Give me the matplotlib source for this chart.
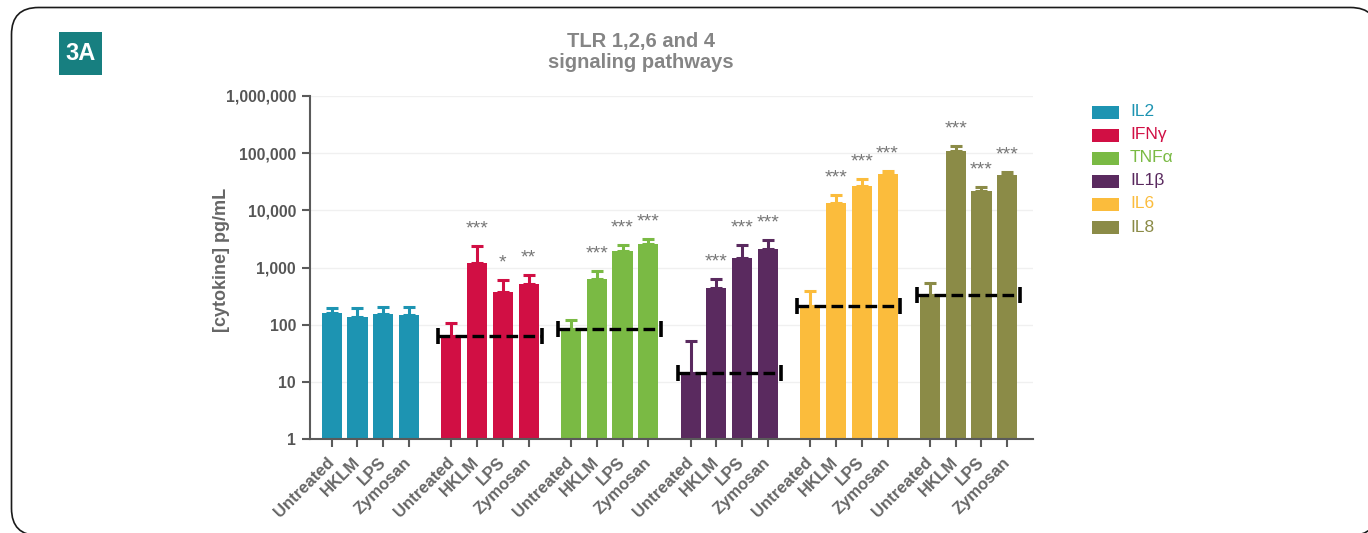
import numpy as np
import matplotlib
matplotlib.use("Agg")
import matplotlib.pyplot as plt
from matplotlib.patches import FancyBboxPatch, Rectangle
from matplotlib.ticker import FixedLocator, FixedFormatter, NullLocator

plt.rcParams['font.family'] = ['Liberation Sans', 'DejaVu Sans']

# ---- data -------------------------------------------------------------
cytokines = ["IL2", "IFNγ", "TNFα", "IL1β", "IL6", "IL8"]
colors = ["#1d94b2", "#d10f44", "#7aba44", "#5a2a5f", "#fbbc3c", "#8b8b47"]
treatments = ["Untreated", "HKLM", "LPS", "Zymosan"]

# mean concentration (pg/mL) per treatment
il2_mean = [158, 138, 153, 148]
ifng_mean = [64, 1184, 368, 508]
tnfa_mean = [83, 621, 1919, 2576]
il1b_mean = [14.4, 443, 1485, 2080]
il6_mean = [212, 13590, 26620, 42700]
il8_mean = [326, 109000, 21800, 42000]

# standard deviation (upper error bar)
il2_sd = [35, 60, 53, 58]
ifng_sd = [44, 1190, 236, 222]
tnfa_sd = [38, 248, 554, 574]
il1b_sd = [38, 194, 988, 945]
il6_sd = [181, 4940, 8180, 6000]
il8_sd = [216, 24000, 4100, 5400]

# significance versus untreated
il2_sig = ["", "", "", ""]
ifng_sig = ["", "***", "*", "**"]
tnfa_sig = ["", "***", "***", "***"]
il1b_sig = ["", "***", "***", "***"]
il6_sig = ["", "***", "***", "***"]
il8_sig = ["", "***", "***", "***"]

# untreated reference line drawn across the group
show_baseline = [False, True, True, True, True, True]

means = [il2_mean, ifng_mean, tnfa_mean, il1b_mean, il6_mean, il8_mean]
sds = [il2_sd, ifng_sd, tnfa_sd, il1b_sd, il6_sd, il8_sd]
sigs = [il2_sig, ifng_sig, tnfa_sig, il1b_sig, il6_sig, il8_sig]

ytick_vals = [1, 10, 100, 1000, 10000, 100000, 1000000]

# ---- figure -----------------------------------------------------------
W, H = 1368, 533
fig = plt.figure(figsize=(W / 100, H / 100), dpi=100)

# pixel-space canvas for frame, badge, title and legend
bg = fig.add_axes([0, 0, 1, 1], zorder=0)
bg.set_xlim(0, W)
bg.set_ylim(H, 0)
bg.axis("off")

frame = FancyBboxPatch((11.5, 7.5), 1366, 528,
                       boxstyle="round,pad=0,rounding_size=27",
                       facecolor="white", edgecolor="#1a1a1a", lw=1.2)
bg.add_patch(frame)
bg.add_patch(Rectangle((59, 32), 43, 43, facecolor="#177f80", edgecolor="none"))
bg.text(80.5, 54, "3A", color="white", fontsize=17, fontweight="bold",
        ha="center", va="center")

bg.text(641, 52, "TLR 1,2,6 and 4\nsignaling pathways", color="#858585",
        fontsize=14.5, fontweight="bold", ha="center", va="center",
        linespacing=1.1)

bg.text(221, 260, "[cytokine] pg/mL", color="#666666", fontsize=13,
        fontweight="bold", rotation=90, ha="center", va="center")

for k, (name, c) in enumerate(zip(cytokines, colors)):
    yk = 112 + 23 * k
    bg.add_patch(Rectangle((1092, yk - 6.5), 27, 13, facecolor=c, edgecolor="none"))
    bg.text(1130, yk, name, color=c, fontsize=12.5, ha="left", va="center")

# ---- main axes --------------------------------------------------------
ax = fig.add_axes([310 / W, 94 / H, 723 / W, 343 / H], zorder=1)
ax.patch.set_alpha(0)
ax.set_yscale("log")

group_step = 4.644
bar_w = 0.78
all_x = []
for g, (m, s, sg, c) in enumerate(zip(means, sds, sigs, colors)):
    x = g * group_step + np.arange(len(treatments))
    all_x.extend(x)
    ax.bar(x, m, width=bar_w, color=c, zorder=2)
    ax.errorbar(x, m, yerr=[np.zeros(len(m)), s], fmt="none", ecolor=c,
                elinewidth=2.2, capsize=4.3, capthick=2.2, zorder=1.5)
    for xi, mi, si, lab in zip(x, m, s, sg):
        if lab:
            ax.annotate(lab, (xi, mi + si), xytext=(0, 9),
                        textcoords="offset points", ha="center",
                        va="baseline", fontsize=14, color="#777777")
    if show_baseline[g]:
        x0, x1 = x[0] - 0.5, x[-1] + 0.5
        ax.plot([x0, x1], [m[0], m[0]], color="black", lw=2.4,
                dashes=(3.5, 1.6), zorder=3, solid_capstyle="butt")
        ax.plot([x0, x1], [m[0], m[0]], ls="none", marker="|", ms=12,
                mew=2.6, color="black", zorder=3)

ax.set_xlim(-0.842, 27.22)
ax.set_ylim(1, 1e6)

ax.yaxis.set_major_locator(FixedLocator(ytick_vals))
ax.yaxis.set_major_formatter(FixedFormatter([f"{v:,}" for v in ytick_vals]))
ax.yaxis.set_minor_locator(NullLocator())
ax.grid(axis="y", color="#f0f0f0", lw=1, zorder=0)
ax.set_axisbelow(True)

ax.set_xticks(all_x)
ax.set_xticklabels(treatments * len(cytokines), rotation=45, ha="right",
                   va="center", rotation_mode="anchor")

for side in ("top", "right"):
    ax.spines[side].set_visible(False)
for side in ("left", "bottom"):
    ax.spines[side].set_color("#5a5a5a")
    ax.spines[side].set_linewidth(1.5)

ax.tick_params(axis="both", direction="out", length=6, width=1.5,
               color="#5a5a5a")
ax.tick_params(axis="y", labelsize=11.4, labelcolor="#555555", pad=4)
ax.tick_params(axis="x", labelsize=12, labelcolor="#666666", pad=9)
for t in ax.get_yticklabels() + ax.get_xticklabels():
    t.set_fontweight("bold")

fig.savefig("out.png", dpi=100)
